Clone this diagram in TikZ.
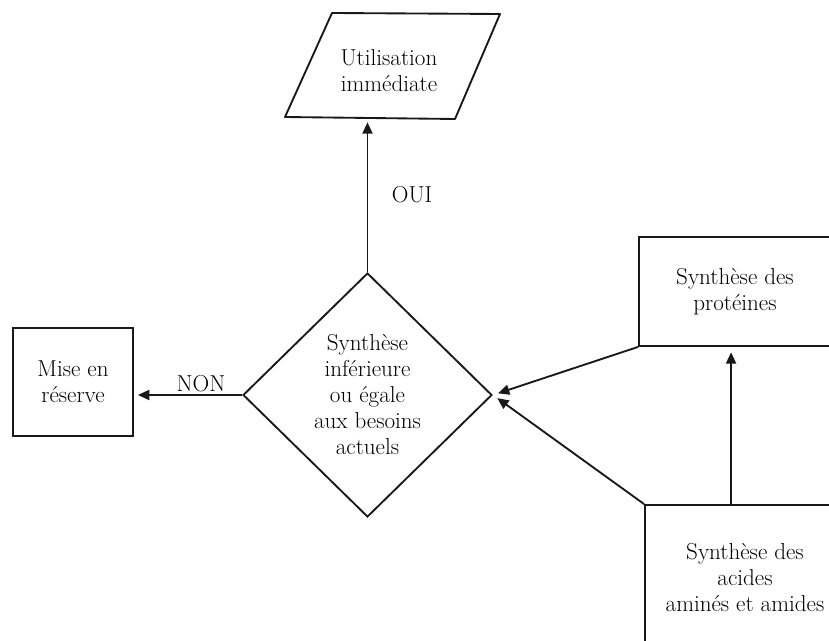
\documentclass[tikz,border=0pt]{standalone}
\usetikzlibrary{shapes.geometric,arrows.meta,calc}
\begin{document}
\begin{tikzpicture}[x=0.75pt,y=-0.75pt,
  font=\fontsize{17.3}{19.5}\selectfont,
  every node/.style={align=center,text=black},
  shapeline/.style={line width=1.4pt,draw=black!90},
  box/.style={shapeline,draw,rectangle,inner sep=0pt},
  arr/.style={line width=1.4pt,draw=black!90,-{Triangle[length=8.5pt,width=7.5pt]}},
  lbl/.style={inner sep=1pt}]
\clip (0,0) rectangle (829,641);
\fill[white] (0,0) rectangle (829,641);
% parallelogram "Utilisation immédiate"
\coordinate (utl) at (332,13);
\coordinate (utr) at (500,14);
\coordinate (ubr) at (455,119);
\coordinate (ubl) at (285,117);
\draw[shapeline,line join=round] (utl) -- (utr) -- (ubr) -- (ubl) -- cycle;
\node (u) at (389,71) {Utilisation\\immédiate};
% decision diamond
\node[shapeline,diamond,minimum width=186.75pt,minimum height=183pt,inner sep=0pt]
      (d) at (367.5,395) {Synthèse\\inférieure\\ou égale\\aux besoins\\actuels};
% boxes
\node[box,minimum width=90pt,minimum height=81pt] (m) at (73,382) {Mise en\\réserve};
\node[box,minimum width=144pt,minimum height=81.75pt] (p) at (735,291.5) {Synthèse des\\protéines};
\node[box,minimum width=150pt,minimum height=108.75pt] (a) at (745,577.5) {Synthèse des\\acides\\aminés et amides};
% labels
\node[lbl] (oui) at (412,195) {OUI};
\node[lbl,anchor=south] (non) at (201,393) {NON};
% connectors
\draw[arr,shorten >=4pt] (d.north) -- (d.north |- ubl);
\draw[arr,shorten >=3pt] (d.west) -- (d.west -| m.east);
\draw[arr,shorten >=4pt] (p.south west) -- (d.east);
\draw[arr,shorten >=4pt] (a.north west) -- (d.east);
\path (a.north west) ++(87,0) coordinate (av);
\draw[arr,shorten >=4pt] (av) -- (av |- p.south);
\end{tikzpicture}
\end{document}
